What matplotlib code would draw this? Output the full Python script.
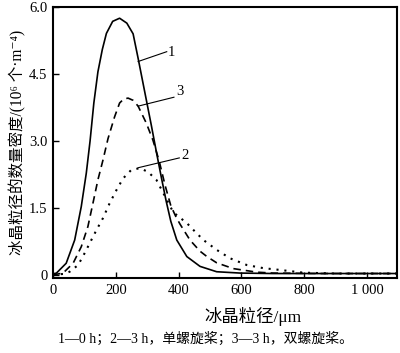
import matplotlib.pyplot as plt
import matplotlib

matplotlib.rcParams['font.family'] = ['Liberation Serif', 'Noto Sans CJK SC', 'DejaVu Serif']
matplotlib.rcParams['axes.unicode_minus'] = False

# 曲线1：0 h
x1 = [0, 11, 42, 69, 90, 106, 118, 130, 143, 157, 170, 190, 212, 235, 255, 271, 292, 313, 330, 345, 360, 375, 394, 426, 468, 521, 596, 700, 1100]
y1 = [0.02, 0.04, 0.26, 0.78, 1.53, 2.28, 3.0, 3.85, 4.55, 5.05, 5.41, 5.68, 5.75, 5.64, 5.40, 4.85, 4.10, 3.35, 2.72, 2.18, 1.66, 1.20, 0.78, 0.41, 0.19, 0.07, 0.04, 0.03, 0.03]
# 曲线2：3 h，单螺旋桨
x2 = [0, 32, 53, 80, 101, 122, 138, 159, 180, 202, 223, 249, 276, 302, 329, 355, 383, 426, 452, 479, 521, 564, 617, 670, 723, 796, 900, 1100]
y2 = [0.0, 0.02, 0.07, 0.22, 0.49, 0.78, 1.0, 1.27, 1.6, 1.9, 2.16, 2.35, 2.39, 2.31, 2.13, 1.78, 1.40, 1.16, 0.97, 0.78, 0.56, 0.37, 0.22, 0.15, 0.11, 0.05, 0.03, 0.03]
# 曲线3：3 h，双螺旋桨
x3 = [0, 32, 64, 90, 111, 127, 143, 159, 175, 196, 212, 225, 239, 255, 271, 297, 318, 338, 357, 375, 390, 404, 436, 468, 490, 521, 574, 649, 700, 850, 1100]
y3 = [0.0, 0.04, 0.26, 0.63, 1.08, 1.6, 2.13, 2.57, 3.05, 3.54, 3.85, 3.94, 3.96, 3.91, 3.78, 3.4, 3.02, 2.55, 2.0, 1.55, 1.32, 1.14, 0.78, 0.53, 0.41, 0.27, 0.14, 0.06, 0.04, 0.03, 0.03]

xticks = [0, 200, 400, 600, 800, 1000]
xticklabels = ['0', '200', '400', '600', '800', '1 000']
yticks = [0, 1.5, 3.0, 4.5, 6.0]
yticklabels = ['0', '1.5', '3.0', '4.5', '6.0']

fig = plt.figure(figsize=(4.0, 3.53), dpi=100)
ax = fig.add_axes([0.1325, 0.2125, 0.86, 0.7675])

ax.plot(x1, y1, color='black', linewidth=1.2, linestyle='-')
ax.plot(x2, y2, color='black', linewidth=1.5, linestyle=(0, (1, 2.8)))
ax.plot(x3, y3, color='black', linewidth=1.2, linestyle=(0, (4.5, 3)))

ax.set_xlim(0, 1095)
ax.set_ylim(-0.07, 6.0)
ax.set_xticks(xticks)
ax.set_xticklabels(xticklabels)
ax.set_yticks(yticks)
ax.set_yticklabels(yticklabels)
ax.tick_params(direction='in', length=4, width=1, labelsize=10.5, pad=4)
for s in ax.spines.values():
    s.set_linewidth(1.5)

# 曲线标注（引线 + 编号）
ax.plot([271, 362], [4.78, 5.0], color='black', linewidth=0.8)
ax.text(376, 4.98, '1', fontsize=10.5, ha='center', va='center')
ax.plot([271, 385], [3.78, 3.98], color='black', linewidth=0.8)
ax.text(404, 4.10, '3', fontsize=10.5, ha='center', va='center')
ax.plot([271, 402], [2.40, 2.62], color='black', linewidth=0.8)
ax.text(420, 2.68, '2', fontsize=10.5, ha='center', va='center')

ax.set_xlabel('冰晶粒径/μm', fontsize=12.5)
ax.xaxis.set_label_coords(0.58, -0.105)
ax.set_ylabel('冰晶粒径的数量密度/(10⁶ 个·m⁻⁴)', fontsize=11.2, labelpad=2)

fig.text(0.515, 0.04, '1—0 h；2—3 h，单螺旋桨；3—3 h，双螺旋桨。', ha='center', va='center', fontsize=10)

plt.savefig('out.png', dpi=100)
plt.close()
